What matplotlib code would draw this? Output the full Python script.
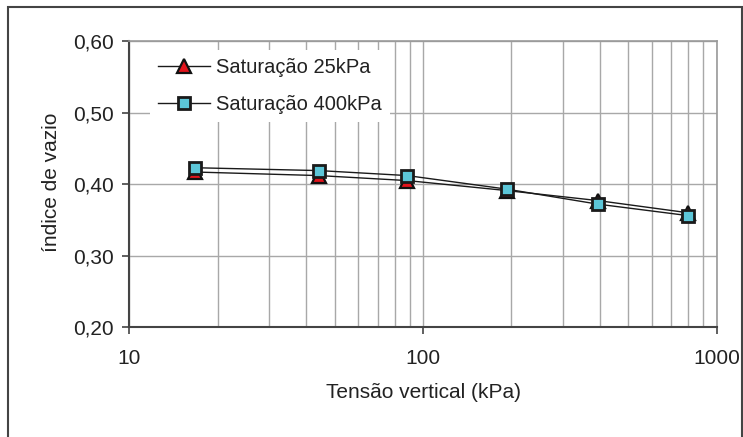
import matplotlib
matplotlib.use("Agg")
import matplotlib.pyplot as plt
from matplotlib.patches import Rectangle
from matplotlib.ticker import FixedLocator, NullFormatter

plt.rcParams['font.family'] = ['Liberation Sans', 'DejaVu Sans']

# data
tensao = [16.7, 44.2, 88.4, 193, 394, 797]
sat_25kpa = [0.417, 0.412, 0.405, 0.391, 0.377, 0.360]
sat_400kpa = [0.423, 0.419, 0.412, 0.393, 0.372, 0.356]

series_labels = ['Saturação 25kPa', 'Saturação 400kPa']
x_ticks = [10, 100, 1000]
x_tick_labels = ['10', '100', '1000']
y_ticks = [0.20, 0.30, 0.40, 0.50, 0.60]
y_tick_labels = ['0,20', '0,30', '0,40', '0,50', '0,60']
x_minor = [20, 30, 40, 50, 60, 70, 80, 90, 200, 300, 400, 500, 600, 700, 800, 900]

TEXT = '#222222'
GRID = '#a8a8a8'
FS = 15

W, H = 743, 437
fig = plt.figure(figsize=(W / 100, H / 100), dpi=100)

#axes box in pixels: left 129, right 717, top 41, bottom 327
ax = fig.add_axes([129.3 / W, 1 - 327 / H, (716.7 - 129.3) / W, (327 - 41.3) / H])

ax.plot(tensao, sat_25kpa, color='#1a1a1a', lw=1.0, marker='^', ms=9.5,
        mfc='#e3141c', mec='#111111', mew=1.6, label=series_labels[0], zorder=3)
ax.plot(tensao, sat_400kpa, color='#1a1a1a', lw=1.0, marker='s', ms=8.5,
        mfc='#5cc6d8', mec='#1a1a1a', mew=2.0, label=series_labels[1], zorder=4)

ax.set_xscale('log')
ax.set_xlim(10, 1000)
ax.set_ylim(0.20, 0.60)

ax.xaxis.set_major_locator(FixedLocator(x_ticks))
ax.set_xticklabels(x_tick_labels)
ax.xaxis.set_minor_locator(FixedLocator(x_minor))
ax.xaxis.set_minor_formatter(NullFormatter())
ax.set_yticks(y_ticks)
ax.set_yticklabels(y_tick_labels)

ax.grid(True, which='major', axis='y', color=GRID, lw=1.0)
ax.grid(True, which='both', axis='x', color=GRID, lw=1.0)
ax.set_axisbelow(True)

ax.tick_params(axis='both', which='major', direction='out', length=5, width=1.2,
               color='#444444', labelsize=FS, labelcolor=TEXT)
ax.tick_params(axis='x', which='major', pad=11)
ax.tick_params(axis='y', which='major', pad=6)
ax.tick_params(axis='x', which='minor', length=0)

for side in ['left', 'bottom']:
    ax.spines[side].set_color('#444444')
    ax.spines[side].set_linewidth(1.5)
for side in ['top', 'right']:
    ax.spines[side].set_color('#999999')
    ax.spines[side].set_linewidth(1.2)

ax.set_xlabel('Tensão vertical (kPa)', fontsize=FS, color=TEXT, labelpad=11)
fig.text(52 / W, 1 - 182 / H, 'índice de vazio', rotation=90, ha='center',
         va='center', fontsize=FS, color=TEXT)

leg = ax.legend(loc='upper left', bbox_to_anchor=(0.035, 0.968), borderaxespad=0,
                frameon=True, fontsize=14.5, handlelength=2.6, handletextpad=0.3,
                labelspacing=0.85, borderpad=0.4, fancybox=False)
leg.get_frame().set_edgecolor('none')
leg.get_frame().set_facecolor('white')
leg.get_frame().set_alpha(1.0)
for t in leg.get_texts():
    t.set_color(TEXT)

#outer chart frame (bottom edge falls outside the image)
frame = Rectangle((8 / W, -0.02), (742 - 8) / W, (1 - 7 / H) + 0.02,
                  transform=fig.transFigure, fill=False, lw=1.5,
                  edgecolor='#444444', clip_on=False)
fig.patches.append(frame)

fig.savefig('out.png', dpi=100)
